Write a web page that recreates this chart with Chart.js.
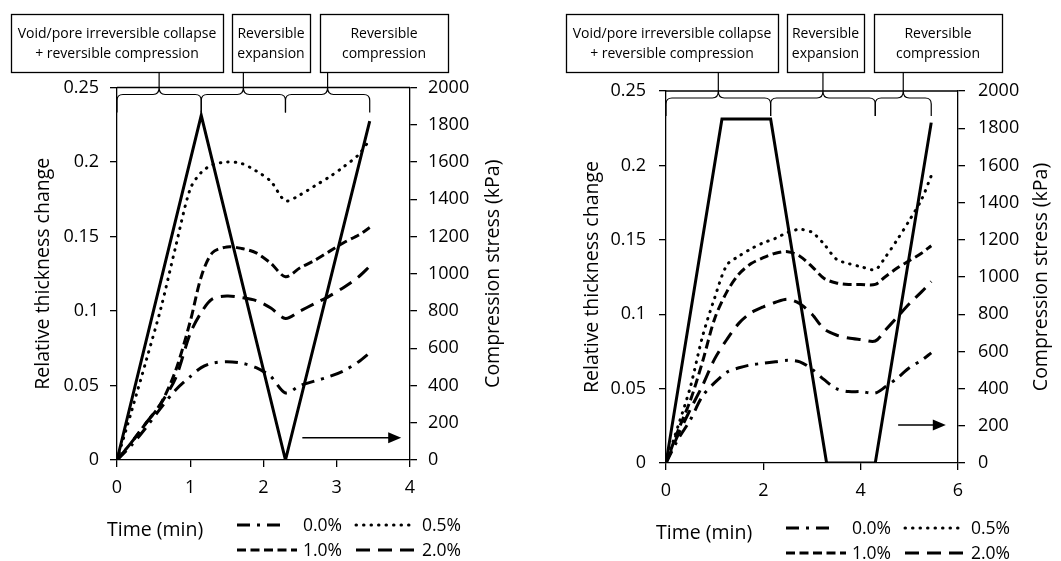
<!DOCTYPE html>
<html>
<head>
<meta charset="utf-8">
<script src="https://cdn.jsdelivr.net/npm/chart.js@4.4.1/dist/chart.umd.min.js"></script>
<style>
  html, body { margin: 0; padding: 0; background: #fff; }
  .panel { position: absolute; top: 0; width: 530px; height: 561px; }
  #left { left: 0; }
  #right { left: 531px; }
</style>
</head>
<body>
<div class="panel" id="left"><canvas id="chartLeft" width="530" height="561"></canvas></div>
<div class="panel" id="right"><canvas id="chartRight" width="530" height="561"></canvas></div>
<script>
// series names + phase boxes
const seriesLabels = ['0.0%', '0.5%', '1.0%', '2.0%'];
const phaseText = [
  ['Void/pore irreversible collapse', '+ reversible compression'],
  ['Reversible', 'expansion'],
  ['Reversible', 'compression']
];

// left panel (no hold)
const timeA = [0, 0.2, 0.4, 0.6, 0.8, 1.0, 1.15, 1.3, 1.5, 1.7, 1.9, 2.1, 2.3, 2.5, 2.7, 2.9, 3.1, 3.3, 3.45];
const thickA00 = [0, 0.01, 0.022, 0.035, 0.047, 0.056, 0.062, 0.065, 0.066, 0.065, 0.062, 0.056, 0.045, 0.05, 0.053, 0.056, 0.06, 0.066, 0.072];
const thickA05 = [0, 0.033, 0.067, 0.102, 0.143, 0.182, 0.193, 0.198, 0.2, 0.199, 0.194, 0.187, 0.174, 0.178, 0.184, 0.19, 0.197, 0.205, 0.215];
const thickA10 = [0, 0.012, 0.025, 0.038, 0.06, 0.093, 0.123, 0.139, 0.143, 0.142, 0.139, 0.132, 0.123, 0.129, 0.134, 0.14, 0.146, 0.151, 0.156];
const thickA20 = [0, 0.012, 0.025, 0.038, 0.055, 0.085, 0.099, 0.108, 0.11, 0.109, 0.107, 0.102, 0.095, 0.1, 0.105, 0.11, 0.116, 0.123, 0.13];
const stressTimeA = [0, 1.15, 2.3, 3.45];
const stressA = [0, 1850, 0, 1820];
const phaseEdgesA = [0, 1.15, 2.3, 3.45];

// right panel (with holds)
const timeB = [0, 0.25, 0.5, 0.75, 1.0, 1.25, 1.5, 1.75, 2.0, 2.25, 2.5, 2.75, 3.0, 3.25, 3.5, 3.75, 4.0, 4.3, 4.5, 4.75, 5.0, 5.25, 5.45];
const thickB00 = [0, 0.016, 0.029, 0.045, 0.054, 0.061, 0.064, 0.066, 0.067, 0.068, 0.069, 0.068, 0.063, 0.056, 0.05, 0.048, 0.048, 0.047, 0.051, 0.057, 0.064, 0.069, 0.074];
const thickB05 = [0, 0.025, 0.051, 0.085, 0.111, 0.133, 0.139, 0.144, 0.148, 0.151, 0.155, 0.157, 0.155, 0.147, 0.137, 0.134, 0.132, 0.13, 0.138, 0.15, 0.163, 0.177, 0.193];
const thickB10 = [0, 0.022, 0.042, 0.068, 0.097, 0.115, 0.127, 0.134, 0.138, 0.141, 0.142, 0.139, 0.132, 0.124, 0.121, 0.12, 0.12, 0.12, 0.125, 0.131, 0.136, 0.141, 0.146];
const thickB20 = [0, 0.019, 0.036, 0.052, 0.07, 0.083, 0.094, 0.101, 0.105, 0.108, 0.11, 0.107, 0.1, 0.09, 0.086, 0.084, 0.083, 0.082, 0.089, 0.098, 0.107, 0.115, 0.122];
const stressTimeB = [0, 1.15, 2.15, 3.3, 4.3, 5.45];
const stressB = [0, 1850, 1850, 0, 0, 1830];
const phaseEdgesB = [0, 2.15, 4.3, 5.45];

// line styles per series
const dashStyles = [[13, 7, 3, 7], [0.5, 7], [9, 4.5], [14, 8]];
const capStyles = ['butt', 'round', 'butt', 'butt'];

Chart.defaults.font.family = "'Open Sans', sans-serif";
Chart.defaults.color = '#000';

const makeDatasets = (time, thick, stressTime, stress) => {
  const sets = thick.map((vals, i) => ({
    label: seriesLabels[i],
    data: time.map((t, k) => ({ x: t, y: vals[k] })),
    yAxisID: 'y',
    borderColor: '#000',
    borderWidth: 3,
    borderDash: dashStyles[i],
    borderCapStyle: capStyles[i],
    pointRadius: 0,
    tension: 0.3,
    fill: false
  }));
  sets.push({
    label: 'Compression stress',
    data: stressTime.map((t, k) => ({ x: t, y: stress[k] })),
    yAxisID: 'y1',
    borderColor: '#000',
    borderWidth: 3,
    pointRadius: 0,
    tension: 0,
    fill: false
  });
  return sets;
};

// boxes, braces, arrow, legend and right title
const decorPlugin = cfg => ({
  id: 'decor',
  afterDraw(chart) {
    const ctx = chart.ctx;
    const ca = chart.chartArea;
    const xs = chart.scales.x;
    const ys = chart.scales.y1;
    ctx.save();
    ctx.strokeStyle = '#000';
    ctx.fillStyle = '#000';

    // phase boxes
    ctx.lineWidth = 1.3;
    ctx.font = "14px 'Open Sans'";
    ctx.textAlign = 'center';
    ctx.textBaseline = 'middle';
    cfg.boxes.forEach((b, i) => {
      ctx.strokeRect(b[0] + 0.5, 14.5, b[1] - b[0], 58);
      phaseText[i].forEach((line, j) => ctx.fillText(line, (b[0] + b[1]) / 2, 34 + j * 20));
    });

    // top line
    ctx.lineWidth = 1.5;
    ctx.beginPath();
    ctx.moveTo(ca.left, ca.top);
    ctx.lineTo(ca.right, ca.top);
    ctx.stroke();

    // braces
    ctx.lineWidth = 1.2;
    const yTop = ca.top, yMid = ca.top + 7, yEnd = ca.top + 25, r = 6;
    for (let k = 0; k < cfg.edges.length - 1; k++) {
      const a = xs.getPixelForValue(cfg.edges[k]);
      const b = xs.getPixelForValue(cfg.edges[k + 1]);
      const m = (a + b) / 2;
      ctx.beginPath();
      ctx.moveTo(a, yEnd);
      ctx.lineTo(a, yMid + r);
      ctx.quadraticCurveTo(a, yMid, a + r, yMid);
      ctx.lineTo(m - r, yMid);
      ctx.quadraticCurveTo(m, yMid, m, yTop);
      ctx.quadraticCurveTo(m, yMid, m + r, yMid);
      ctx.lineTo(b - r, yMid);
      ctx.quadraticCurveTo(b, yMid, b, yMid + r);
      ctx.lineTo(b, yEnd);
      ctx.stroke();
      ctx.beginPath();
      ctx.moveTo(m, 72.5);
      ctx.lineTo(m, yTop);
      ctx.stroke();
    }

    // arrow -> right axis
    const ax0 = xs.getPixelForValue(cfg.arrow[0]);
    const ax1 = xs.getPixelForValue(cfg.arrow[1]);
    const ay = ys.getPixelForValue(cfg.arrow[2]);
    ctx.lineWidth = 1.5;
    ctx.beginPath();
    ctx.moveTo(ax0, ay);
    ctx.lineTo(ax1 - 10, ay);
    ctx.stroke();
    ctx.beginPath();
    ctx.moveTo(ax1, ay);
    ctx.lineTo(ax1 - 13, ay - 5.5);
    ctx.lineTo(ax1 - 13, ay + 5.5);
    ctx.closePath();
    ctx.fill();

    // right axis title, reads bottom to top
    ctx.font = "19.5px 'Open Sans'";
    ctx.save();
    ctx.translate(ca.right + 83, (ca.top + ca.bottom) / 2);
    ctx.rotate(-Math.PI / 2);
    ctx.fillText('Compression stress (kPa)', 0, 0);
    ctx.restore();

    // x title
    ctx.textAlign = 'left';
    ctx.fillText('Time (min)', ca.left - 10, ca.bottom + 70);

    // legend
    ctx.font = "17.5px 'Open Sans'";
    chart.data.datasets.forEach((ds, i) => {
      if (ds.yAxisID !== 'y') return;
      const x0 = ca.left + (i % 2 ? 239 : 120);
      const y0 = ca.bottom + (i < 2 ? 65 : 90);
      const w = i === 0 ? 50 : 60;
      ctx.lineWidth = ds.borderWidth;
      ctx.lineCap = ds.borderCapStyle;
      ctx.setLineDash(ds.borderDash);
      ctx.beginPath();
      ctx.moveTo(x0, y0);
      ctx.lineTo(x0 + w, y0);
      ctx.stroke();
      ctx.setLineDash([]);
      ctx.lineCap = 'butt';
      ctx.fillText(ds.label, x0 + 66, y0 + 1);
    });
    ctx.restore();
  }
});

const makeOptions = cfg => ({
  responsive: false,
  animation: false,
  devicePixelRatio: 1,
  layout: { padding: { top: cfg.top, left: 0, right: 0, bottom: 0 } },
  plugins: { legend: { display: false }, tooltip: { enabled: false } },
  scales: {
    x: {
      type: 'linear',
      min: 0,
      max: cfg.xMax,
      ticks: { stepSize: cfg.xStep, padding: 10, color: '#000', font: { size: 18 } },
      grid: { drawOnChartArea: false, color: '#000', lineWidth: 1.3, tickLength: 7 },
      border: { color: '#000', width: 1.3 },
      afterFit: s => { s.height = cfg.xHeight; }
    },
    y: {
      position: 'left',
      min: 0,
      max: 0.25,
      ticks: {
        stepSize: 0.05,
        padding: cfg.tickPad,
        color: '#000',
        font: { size: 18 },
        callback: v => String(Math.round(v * 100) / 100)
      },
      grid: { drawOnChartArea: false, color: '#000', lineWidth: 1.3, tickLength: 7 },
      border: { color: '#000', width: 1.3 },
      title: {
        display: true,
        text: 'Relative thickness change',
        color: '#000',
        font: { size: 19.5 },
        padding: { top: cfg.titlePad, bottom: 0 }
      },
      afterFit: s => { s.width = cfg.yWidth; }
    },
    y1: {
      position: 'right',
      min: 0,
      max: 2000,
      ticks: { stepSize: 200, padding: cfg.tickPad, color: '#000', font: { size: 18 }, callback: v => String(v) },
      grid: { drawOnChartArea: false, color: '#000', lineWidth: 1.3, tickLength: 7 },
      border: { color: '#000', width: 1.3 },
      afterFit: s => { s.width = cfg.y1Width; }
    }
  }
});

new Chart(document.getElementById('chartLeft'), {
  type: 'line',
  data: { datasets: makeDatasets(timeA, [thickA00, thickA05, thickA10, thickA20], stressTimeA, stressA) },
  options: makeOptions({ top: 87.5, xMax: 4, xStep: 1, xHeight: 101, yWidth: 117, y1Width: 120, tickPad: 11, titlePad: 32 }),
  plugins: [decorPlugin({
    boxes: [[11, 223], [232, 310], [320, 448]],
    edges: phaseEdgesA,
    arrow: [2.53, 3.88, 120]
  })]
});

new Chart(document.getElementById('chartRight'), {
  type: 'line',
  data: { datasets: makeDatasets(timeB, [thickB00, thickB05, thickB10, thickB20], stressTimeB, stressB) },
  options: makeOptions({ top: 91, xMax: 6, xStep: 2, xHeight: 98, yWidth: 135, y1Width: 103, tickPad: 13, titlePad: 50 }),
  plugins: [decorPlugin({
    boxes: [[35, 247], [256, 333], [343, 471]],
    edges: phaseEdgesB,
    arrow: [4.77, 5.75, 204]
  })]
});
</script>
</body>
</html>
